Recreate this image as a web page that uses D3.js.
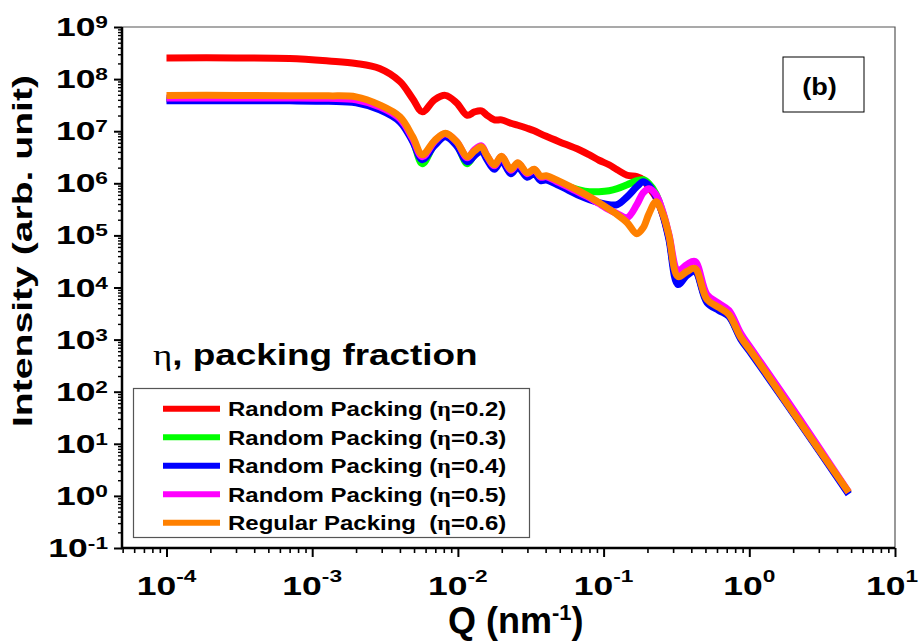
<!DOCTYPE html>
<html>
  <head>
    <meta charset="utf-8">
    <title>SAXS packing</title>
    <script src="https://cdn.jsdelivr.net/npm/d3@7/dist/d3.min.js"></script>
    <style>
      body { margin: 0; background: #fff; }
      text { font-family: "Liberation Sans", Arial, sans-serif; font-weight: bold; fill: #000; }
    </style>
  </head>
  <body>
    <svg id="chart" width="919" height="643"></svg>
    <script>
      // Q grid (nm^-1) shared by every curve
      var qValues = [1e-4, 3e-4, 7e-4, 1.3e-3, 2e-3, 2.9e-3, 4e-3, 4.9e-3, 5.7e-3, 6.9e-3,
        8.2e-3, 9.8e-3, 1.16e-2, 1.3e-2, 1.45e-2, 1.57e-2, 1.78e-2, 1.99e-2, 2.31e-2, 2.58e-2,
        2.99e-2, 3.34e-2, 3.70e-2, 4.04e-2, 4.95e-2, 6.8e-2, 8.0e-2, 9.3e-2, 0.109, 0.124,
        0.145, 0.169, 0.187, 0.205, 0.229, 0.256, 0.281, 0.324, 0.373, 0.424,
        0.512, 0.618, 0.724, 0.875, 1.04, 2.18, 4.81];

      var random02 = [2.55e8, 2.55e8, 2.49e8, 2.23e8, 2.0e8, 1.6e8, 9.0e7, 4.18e7, 2.35e7, 4.0e7,
        4.87e7, 3.5e7, 2.02e7, 2.35e7, 2.46e7, 2.06e7, 1.65e7, 1.65e7, 1.42e7, 1.30e7,
        1.14e7, 1.02e7, 8.9e6, 7.98e6, 6.3e6, 4.4e6, 3.5e6, 2.77e6, 2.27e6, 1.82e6,
        1.43e6, 1.34e6, 1.17e6, 8.2e5, 5.3e5, 2.4e5, 9.1e4, 1.42e4, 2.03e4, 2.21e4,
        5.6e3, 4.14e3, 3.04e3, 1.10e3, 569, 28.3, 1.13];
      var random03 = [4.18e7, 4.18e7, 4.18e7, 4.09e7, 3.82e7, 2.81e7, 1.65e7, 6.55e6, 2.38e6, 5.5e6,
        8.2e6, 5.5e6, 2.38e6, 3.53e6, 4.6e6, 3.23e6, 2.04e6, 2.96e6, 1.67e6, 2.22e6,
        1.43e6, 1.67e6, 1.23e6, 1.25e6, 1.0e6, 7.5e5, 6.9e5, 6.9e5, 7.2e5, 7.9e5,
        9.4e5, 1.12e6, 1.17e6, 9.8e5, 6.3e5, 2.62e5, 9.1e4, 1.42e4, 2.03e4, 2.21e4,
        5.6e3, 3.96e3, 2.91e3, 1.05e3, 544, 28.3, 1.13];
      var random04 = [3.82e7, 3.82e7, 3.82e7, 3.74e7, 3.5e7, 2.57e7, 1.51e7, 6.3e6, 2.83e6, 5.25e6,
        7.8e6, 5.25e6, 2.59e6, 3.38e6, 4.2e6, 2.96e6, 1.86e6, 2.71e6, 1.53e6, 2.04e6,
        1.31e6, 1.53e6, 1.12e6, 1.15e6, 9.0e5, 5.8e5, 4.85e5, 4.25e5, 3.89e5, 3.89e5,
        5.5e5, 8.6e5, 1.07e6, 9.0e5, 5.5e5, 2.4e5, 8.3e4, 1.14e4, 1.70e4, 2.03e4,
        5.16e3, 3.63e3, 2.78e3, 1.01e3, 521, 27.1, 1.08];
      var random05 = [4.36e7, 4.36e7, 4.36e7, 4.27e7, 4.0e7, 2.93e7, 1.73e7, 7.15e6, 3.23e6, 6.3e6,
        8.9e6, 6.3e6, 3.09e6, 4.4e6, 5.25e6, 3.53e6, 2.17e6, 3.23e6, 1.78e6, 2.42e6,
        1.53e6, 1.82e6, 1.31e6, 1.34e6, 1.03e6, 6.6e5, 5.3e5, 4.07e5, 3.12e5, 2.62e5,
        2.19e5, 3.89e5, 6.6e5, 7.9e5, 6.05e5, 2.73e5, 1.04e5, 2.12e4, 2.76e4, 3.15e4,
        7.35e3, 4.94e3, 3.63e3, 1.31e3, 649, 32.3, 1.18];
      var regular06 = [4.87e7, 4.87e7, 4.8e7, 4.77e7, 4.56e7, 3.2e7, 1.89e7, 7.8e6, 3.53e6, 6.55e6,
        9.1e6, 6.3e6, 3.23e6, 4.2e6, 5.0e6, 3.53e6, 2.27e6, 3.3e6, 1.86e6, 2.48e6,
        1.60e6, 1.86e6, 1.37e6, 1.40e6, 1.10e6, 7.06e5, 5.5e5, 4.25e5, 3.19e5, 2.5e5,
        1.76e5, 1.08e5, 1.41e5, 2.62e5, 4.44e5, 2.5e5, 9.9e4, 1.62e4, 2.03e4, 2.31e4,
        5.9e3, 4.14e3, 3.04e3, 1.10e3, 569, 28.3, 1.18];

      var seriesLabels = ["Random Packing (η=0.2)", "Random Packing (η=0.3)", "Random Packing (η=0.4)",
        "Random Packing (η=0.5)", "Regular Packing  (η=0.6)"];
      var seriesColors = ["#ff0000", "#00ff00", "#0000ff", "#ff00ff", "#ff8000"];
      var seriesValues = [random02, random03, random04, random05, regular06];

      var xTickExps = [-4, -3, -2, -1, 0, 1];
      var yTickExps = [-1, 0, 1, 2, 3, 4, 5, 6, 7, 8, 9];

      var svg = d3.select("#chart");
      // note: "top" is taken by window.top, so plot edges get their own names
      var plotL = 122, plotR = 895, plotT = 27, plotB = 548;

      var x = d3.scaleLog().domain([4.95e-5, 10]).range([plotL, plotR]);
      var y = d3.scaleLog().domain([0.1, 1e9]).range([plotB, plotT]);

      // minor ticks 2..9 in each decade
      function minors(lo, hi) {
        var out = [];
        for (var e = lo; e < hi; e++) {
          for (var k = 2; k <= 9; k++) out.push(k * Math.pow(10, e));
        }
        return out;
      }
      var xMajor = xTickExps.map(function(e) { return Math.pow(10, e); });
      var yMajor = yTickExps.map(function(e) { return Math.pow(10, e); });
      var xMinor = minors(-5, 1).filter(function(v) { return v >= 4.95e-5 && v < 10; });
      var yMinor = minors(-1, 9);

      function styleTicks(g, w) {
        g.select(".domain").remove();
        g.selectAll(".tick line").attr("stroke", "#000").attr("stroke-width", w);
      }

      svg.append("g").attr("transform", "translate(0," + plotB + ")")
        .call(d3.axisBottom(x).tickValues(xMinor).tickSize(5).tickFormat(""))
        .call(styleTicks, 1.6);
      svg.append("g").attr("transform", "translate(0," + plotB + ")")
        .call(d3.axisBottom(x).tickValues(xMajor).tickSize(9).tickFormat(""))
        .call(styleTicks, 2);
      svg.append("g").attr("transform", "translate(" + plotL + ",0)")
        .call(d3.axisLeft(y).tickValues(yMinor).tickSize(4).tickFormat(""))
        .call(styleTicks, 1.4);
      svg.append("g").attr("transform", "translate(" + plotL + ",0)")
        .call(d3.axisLeft(y).tickValues(yMajor).tickSize(8).tickFormat(""))
        .call(styleTicks, 2);

      // frame: thin top/right, heavy left/bottom
      svg.append("path").attr("d", "M" + plotL + "," + plotT + "H" + plotR + "V" + plotB)
        .attr("fill", "none").attr("stroke", "#555").attr("stroke-width", 1.2);
      svg.append("path").attr("d", "M" + plotL + "," + plotT + "V" + plotB + "H" + plotR)
        .attr("fill", "none").attr("stroke", "#000").attr("stroke-width", 2.5);

      // power-of-ten labels
      function powLabel(px, py, exp, anchor, supDy) {
        var t = svg.append("text")
          .attr("transform", "translate(" + px + "," + py + ") scale(1.42,1)")
          .attr("text-anchor", anchor).attr("font-size", 25);
        t.append("tspan").text("10");
        t.append("tspan").attr("dy", supDy).attr("font-size", 16).text(exp);
      }
      xTickExps.forEach(function(e) {
        // the last label sits on the right edge, pull it in a touch
        var px = x(Math.pow(10, e)) - (e === 1 ? 3 : 0);
        powLabel(px, 595, e, "middle", -13);
      });
      yTickExps.forEach(function(e) { powLabel(108, y(Math.pow(10, e)) + 9, e, "end", -8); });

      // axis titles
      var xt = svg.append("text").attr("x", 448).attr("y", 633).attr("font-size", 36);
      xt.append("tspan").text("Q (nm");
      xt.append("tspan").attr("dy", -13).attr("font-size", 22).text("-1");
      xt.append("tspan").attr("dy", 13).text(")");

      svg.append("text").attr("transform", "translate(32,251) rotate(-90)")
        .attr("text-anchor", "middle").attr("font-size", 27)
        .attr("textLength", 352).attr("lengthAdjust", "spacingAndGlyphs")
        .text("Intensity (arb. unit)");

      // curves
      var line = d3.line()
        .x(function(d) { return x(d.q); })
        .y(function(d) { return y(d.v); })
        .curve(d3.curveCatmullRom.alpha(0.5));

      seriesValues.forEach(function(vals, i) {
        var pts = qValues.map(function(q, j) { return {q: q, v: vals[j]}; });
        svg.append("path").attr("d", line(pts))
          .attr("fill", "none").attr("stroke", seriesColors[i])
          .attr("stroke-width", 7).attr("stroke-linejoin", "round");
      });

      // text with a serif eta
      function etaText(g, str) {
        var parts = str.split("η");
        g.append("tspan").text(parts[0]);
        g.append("tspan").style("font-family", "'Liberation Serif', serif").text("η");
        g.append("tspan").text(parts[1]);
      }

      var note = svg.append("text")
        .attr("transform", "translate(153,365) scale(1.23,1)").attr("font-size", 30);
      etaText(note, "η, packing fraction");
      note.select("tspan:nth-child(2)").style("font-weight", "normal");

      // legend
      svg.append("rect").attr("x", 133.5).attr("y", 388.5).attr("width", 396).attr("height", 149)
        .attr("fill", "#fff").attr("stroke", "#555").attr("stroke-width", 1.2);
      seriesLabels.forEach(function(lab, i) {
        var ly = 408.7 + i * 28.5;
        svg.append("line").attr("x1", 163).attr("x2", 220).attr("y1", ly).attr("y2", ly)
          .attr("stroke", seriesColors[i]).attr("stroke-width", 6);
        var t = svg.append("text").style("white-space", "pre")
          .attr("transform", "translate(228," + (ly + 7.3) + ") scale(1.2,1)")
          .attr("font-size", 20);
        etaText(t, lab);
      });

      // panel tag
      svg.append("rect").attr("x", 783).attr("y", 57).attr("width", 81).attr("height", 55)
        .attr("fill", "none").attr("stroke", "#000").attr("stroke-width", 1);
      svg.append("text").attr("transform", "translate(819.5,95) scale(1.18,1)")
        .attr("text-anchor", "middle").attr("font-size", 23).text("(b)");
    </script>
  </body>
</html>
